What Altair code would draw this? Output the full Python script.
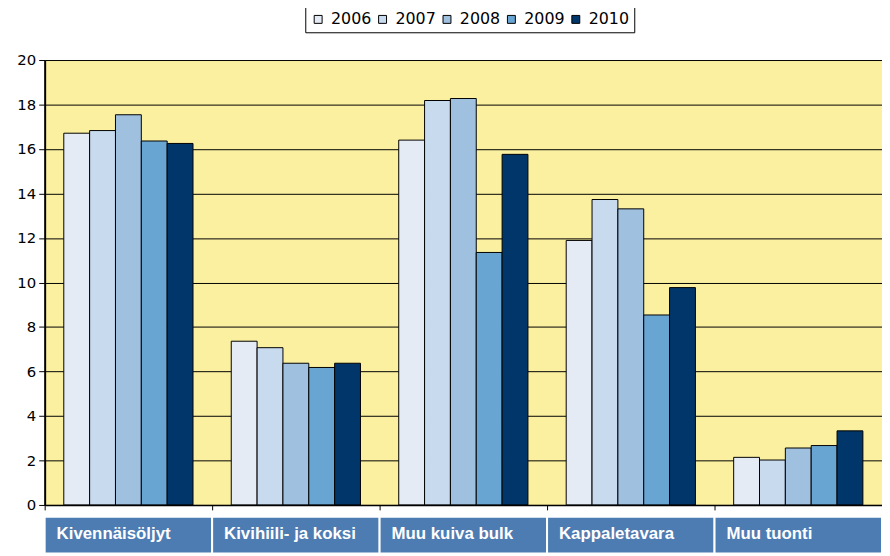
import altair as alt
import pandas as pd

categories = ["Kivennäisöljyt", "Kivihiili- ja koksi", "Muu kuiva bulk", "Kappaletavara", "Muu tuonti"]
years = ["2006", "2007", "2008", "2009", "2010"]
v2006 = [16.71, 7.36, 16.40, 11.89, 2.14]
v2007 = [16.83, 7.07, 18.18, 13.73, 2.02]
v2008 = [17.54, 6.37, 18.27, 13.31, 2.56]
v2009 = [16.36, 6.18, 11.35, 8.54, 2.67]
v2010 = [16.25, 6.37, 15.76, 9.77, 3.33]
colors = ["#E4EBF5", "#C8DAEE", "#9FC0DE", "#69A5D2", "#00366A"]
y_ticks = list(range(0, 21, 2))

series = [v2006, v2007, v2008, v2009, v2010]
rows = []
for yr, vals in zip(years, series):
    for c, v in zip(categories, vals):
        rows.append({"cat": c, "year": yr, "value": v})
df = pd.DataFrame(rows)
cat_df = pd.DataFrame({"cat": categories})

x_scale = alt.Scale(domain=categories, paddingInner=0, paddingOuter=0)
x_axis = alt.Axis(labels=False, title=None, tickBand="extent", tickSize=5,
                  tickColor="black", domainColor="black", domainWidth=1.5, grid=False)

bars = alt.Chart(df).mark_bar(stroke="black", strokeWidth=1, opacity=1).encode(
    x=alt.X("cat:N", sort=categories, scale=x_scale, axis=x_axis),
    xOffset=alt.XOffset("year:N", sort=years,
                        scale=alt.Scale(paddingInner=0, paddingOuter=0.74)),
    y=alt.Y("value:Q", scale=alt.Scale(domain=[0, 20], nice=False),
            axis=alt.Axis(values=y_ticks, grid=True, gridColor="black", gridWidth=1,
                          tickColor="black", tickSize=6, domainColor="black",
                          domainWidth=2, labelFont="DejaVu Sans", labelFontSize=15,
                          labelColor="black", labelPadding=3, title=None)),
    color=alt.Color("year:N", sort=years,
                    scale=alt.Scale(domain=years, range=colors),
                    legend=alt.Legend(orient="none", legendX=263, legendY=-54,
                                      direction="horizontal", title=None,
                                      symbolType="square", symbolSize=64,
                                      symbolStrokeColor="black", symbolStrokeWidth=1,
                                      labelFont="DejaVu Sans", labelFontSize=16,
                                      labelColor="black", labelOffset=5,
                                      columnPadding=3, strokeColor="black",
                                      fillColor="white", padding=5)),
)

boxes = alt.Chart(cat_df).mark_rect(fill="#4D7CB2", stroke="white", strokeWidth=2).encode(
    x=alt.X("cat:N", sort=categories, scale=x_scale, axis=x_axis),
    y=alt.value(461),
    y2=alt.value(498),
)

labels = alt.Chart(cat_df).mark_text(
    color="white", font="Liberation Sans", fontWeight="bold", fontSize=17,
    align="left", baseline="alphabetic", dx=12,
).encode(
    x=alt.X("cat:N", sort=categories, scale=x_scale, axis=x_axis, bandPosition=0),
    y=alt.value(483),
    text="cat:N",
)

chart = alt.layer(boxes, bars, labels).properties(
    width=845, height=449,
    autosize=alt.AutoSizeParams(type="none"),
    padding={"left": 37, "top": 50, "right": 0, "bottom": 48},
).configure_view(fill="#FAF0A0", stroke=None)

chart.save("out.html", embed_options={"renderer": "svg", "actions": False})
